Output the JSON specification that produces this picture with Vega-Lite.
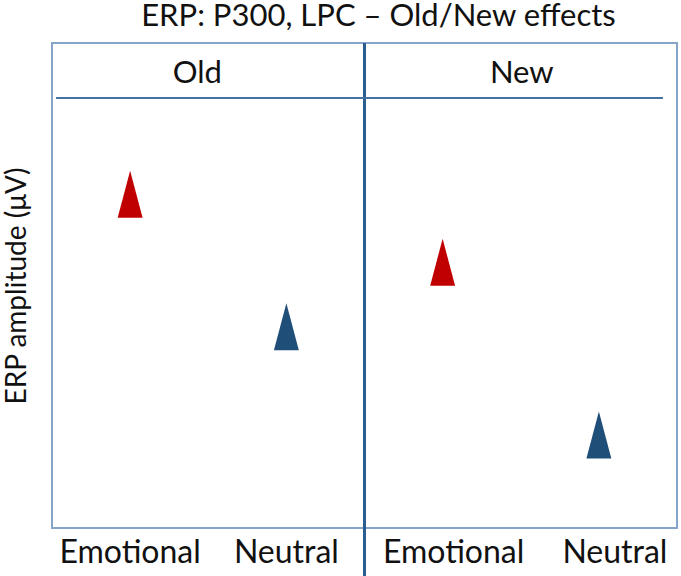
{
  "$schema": "https://vega.github.io/schema/vega-lite/v6.json",
  "autosize": {"type": "none"},
  "padding": {"left": 52, "top": 43, "right": 4, "bottom": 48},
  "width": 625,
  "height": 485,
  "background": "white",
  "config": {
    "view": {"stroke": "#86a5c9", "strokeWidth": 2},
    "font": "Lato"
  },
  "title": {
    "text": "ERP: P300, LPC – Old/New effects",
    "font": "Lato",
    "fontSize": 31,
    "fontWeight": "normal",
    "color": "#111111",
    "anchor": "middle",
    "frame": "group",
    "baseline": "alphabetic",
    "offset": -15,
    "dx": 14
  },
  "data": {
    "values": [
      {"group": "Old", "condition": "Emotional", "cell": "Old|Emotional", "amplitude": 68.8},
      {"group": "Old", "condition": "Neutral", "cell": "Old|Neutral", "amplitude": 41.5},
      {"group": "New", "condition": "Emotional", "cell": "New|Emotional", "amplitude": 54.8},
      {"group": "New", "condition": "Neutral", "cell": "New|Neutral", "amplitude": 19.2}
    ]
  },
  "layer": [
    {
      "mark": {"type": "point", "shape": "M 0 -1 L 0.53 1 L -0.53 1 Z", "filled": true, "opacity": 1, "size": 2209, "strokeWidth": 0},
      "encoding": {
        "x": {
          "field": "cell",
          "type": "nominal",
          "sort": null,
          "scale": {"domain": ["Old|Emotional", "Old|Neutral", "New|Emotional", "New|Neutral"], "type": "band", "paddingInner": 0, "paddingOuter": 0},
          "axis": {
            "title": null,
            "domain": false,
            "ticks": false,
            "tickSize": 0,
            "grid": false,
            "labelAngle": 0,
            "labelFont": "Lato",
            "labelFontSize": 32,
            "labelColor": "#111111",
            "labelPadding": 9,
            "labelBaseline": "top",
            "labelExpr": "split(datum.value, '|')[1]",
            "labelOffset": {
              "condition": [
                {"test": "datum.value === 'New|Emotional'", "value": 11},
                {"test": "datum.value === 'New|Neutral'", "value": 16}
              ],
              "value": 0
            }
          }
        },
        "y": {
          "field": "amplitude",
          "type": "quantitative",
          "scale": {"domain": [0, 100], "nice": false, "zero": false},
          "axis": {
            "title": "ERP amplitude (μV)",
            "titleFont": "Lato",
            "titleFontSize": 28,
            "titleFontWeight": "normal",
            "titleColor": "#111111",
            "titlePadding": 21,
            "labels": false,
            "ticks": false,
            "domain": false,
            "grid": false
          }
        },
        "color": {
          "field": "condition",
          "type": "nominal",
          "scale": {"domain": ["Emotional", "Neutral"], "range": ["#c00000", "#1f4e79"]},
          "legend": null
        }
      }
    },
    {
      "data": {"values": [{}]},
      "mark": {"type": "rule", "color": "#2c5d8f", "strokeWidth": 3},
      "encoding": {
        "x": {"datum": "New|Emotional", "bandPosition": 0},
        "y": {"datum": 100},
        "y2": {"datum": -10}
      }
    },
    {
      "data": {"values": [{}]},
      "mark": {"type": "rule", "color": "#4672a0", "strokeWidth": 2},
      "encoding": {
        "x": {"datum": "Old|Emotional", "bandPosition": 0.026},
        "x2": {"datum": "New|Neutral", "bandPosition": 0.91},
        "y": {"datum": 88.66}
      }
    },
    {
      "transform": [{"filter": "datum.condition === 'Emotional'"}],
      "mark": {"type": "text", "font": "Lato", "fontSize": 31, "color": "#111111", "align": "center", "baseline": "alphabetic", "dx": {"expr": "datum.group === 'Old' ? -11 : 1"}},
      "encoding": {
        "x": {"field": "cell", "type": "nominal", "bandPosition": 1},
        "y": {"datum": 91.75},
        "text": {"field": "group"}
      }
    }
  ]
}
